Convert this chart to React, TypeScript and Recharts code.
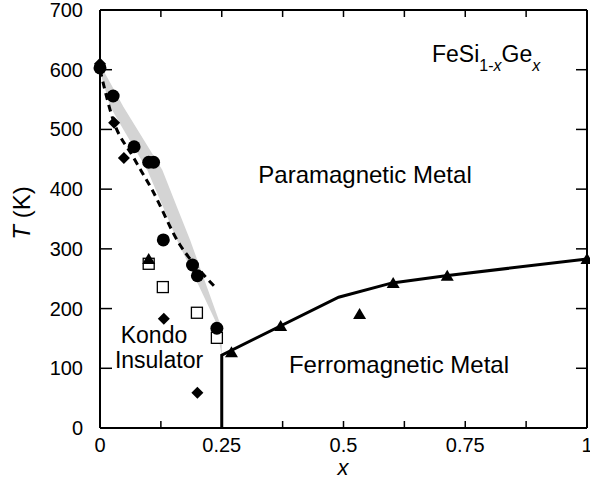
import React from 'react'
import {
    ComposedChart, XAxis, YAxis, Line, Area, Scatter,
} from 'recharts'

// Kondo-insulator crossover band (x, [lower T, upper T])
const bandX = [0, 0.021, 0.048, 0.097, 0.128, 0.158, 0.185, 0.236, 0.25]
const bandLow = [597, 538, 500, 432, 373, 315, 269, 181, 122]
const bandHigh = [609, 578, 538, 473, 432, 370, 315, 199, 167]

// dashed guide line
const dashX = [0, 0.027, 0.068, 0.107, 0.164, 0.19, 0.219, 0.24]
const dashT = [600, 516, 454, 399, 307, 278, 251, 233]

// ferromagnetic phase boundary
const ferroX = [0.25, 0.25, 0.49, 0.6, 0.71, 1]
const ferroT = [0, 122, 219, 243, 255, 283]

// markers
const circleX = [0, 0.027, 0.07, 0.1, 0.11, 0.13, 0.19, 0.2, 0.24]
const circleT = [603, 556, 471, 445, 445, 315, 273, 255, 167]
const diamondX = [0, 0.029, 0.049, 0.131, 0.2]
const diamondT = [610, 511, 452, 183, 59]
const squareX = [0.1, 0.129, 0.199, 0.24]
const squareT = [275, 236, 193, 151]
const triangleX = [0.1, 0.27, 0.371, 0.533, 0.602, 0.713, 1]
const triangleT = [283, 127, 171, 191, 243, 255, 283]

const xTicks = [0, 0.125, 0.25, 0.375, 0.5, 0.625, 0.75, 0.875, 1]
const xLabels = [0, 0.25, 0.5, 0.75, 1]
const yTicks = [0, 100, 200, 300, 400, 500, 600, 700]

const zip = (xs: number[], ts: number[]) => xs.map((x, i) => ({ x, T: ts[i] }))

const bandData = bandX.map((x, i) => ({ x, band: [bandLow[i], bandHigh[i]] }))
const dashData = zip(dashX, dashT)
const ferroData = zip(ferroX, ferroT)

const FONT = '"Liberation Sans", Arial, Helvetica, sans-serif'

const BottomTick = (props: any) => {
    const { x, y, payload } = props
    return (
        <g>
            <line x1={x} y1={y} x2={x} y2={y - 7} stroke="#000" strokeWidth={1.5} />
            {xLabels.includes(payload.value) && (
                <text x={x} y={y + 24} textAnchor="middle" fontSize={20} fill="#000" fontFamily={FONT}>
                    {String(payload.value)}
                </text>
            )}
        </g>
    )
}

const TopTick = (props: any) => {
    const { x, y } = props
    return <line x1={x} y1={y} x2={x} y2={y + 7} stroke="#000" strokeWidth={1.5} />
}

const LeftTick = (props: any) => {
    const { x, y, payload } = props
    return (
        <g>
            <line x1={x} y1={y} x2={x + 12} y2={y} stroke="#000" strokeWidth={1.5} />
            <text x={x - 17} y={y + 7} textAnchor="end" fontSize={20} fill="#000" fontFamily={FONT}>
                {String(payload.value)}
            </text>
        </g>
    )
}

const RightTick = (props: any) => {
    const { x, y } = props
    return <line x1={x} y1={y} x2={x - 11} y2={y} stroke="#000" strokeWidth={1.5} />
}

const Dot = (props: any) => <circle cx={props.cx} cy={props.cy} r={6.5} fill="#000" />
const Diamond = (props: any) => {
    const { cx, cy } = props
    return <polygon points={`${cx},${cy - 6} ${cx + 6},${cy} ${cx},${cy + 6} ${cx - 6},${cy}`} fill="#000" />
}
const Square = (props: any) => (
    <rect x={props.cx - 5.5} y={props.cy - 5.5} width={11} height={11} fill="#fff" stroke="#000" strokeWidth={1.3} />
)
const Triangle = (props: any) => {
    const { cx, cy } = props
    return <polygon points={`${cx},${cy - 6} ${cx + 6.5},${cy + 5} ${cx - 6.5},${cy + 5}`} fill="#000" />
}

export default function App() {
    return (
        <div style={{ position: 'absolute', left: 0, top: 0, fontFamily: FONT }}>
            <ComposedChart width={590} height={480} margin={{ top: 9, right: 2, bottom: 0, left: 0 }}>
                <XAxis
                    dataKey="x"
                    type="number"
                    domain={[0, 1]}
                    ticks={xTicks}
                    tick={<BottomTick />}
                    tickLine={false}
                    tickSize={0}
                    tickMargin={0}
                    interval={0}
                    axisLine={{ stroke: '#000', strokeWidth: 2 }}
                    height={52}
                />
                <XAxis
                    xAxisId="top"
                    dataKey="x"
                    orientation="top"
                    type="number"
                    domain={[0, 1]}
                    ticks={xTicks}
                    tick={<TopTick />}
                    tickLine={false}
                    tickSize={0}
                    tickMargin={0}
                    interval={0}
                    axisLine={{ stroke: '#000', strokeWidth: 2 }}
                    height={1}
                />
                <YAxis
                    type="number"
                    domain={[0, 700]}
                    ticks={yTicks}
                    tick={<LeftTick />}
                    tickLine={false}
                    tickSize={0}
                    tickMargin={0}
                    interval={0}
                    axisLine={{ stroke: '#000', strokeWidth: 2 }}
                    width={100}
                />
                <YAxis
                    yAxisId="right"
                    orientation="right"
                    type="number"
                    domain={[0, 700]}
                    ticks={yTicks}
                    tick={<RightTick />}
                    tickLine={false}
                    tickSize={0}
                    tickMargin={0}
                    interval={0}
                    axisLine={{ stroke: '#000', strokeWidth: 2 }}
                    width={1}
                />
                <Area
                    data={bandData}
                    dataKey="band"
                    type="linear"
                    stroke="none"
                    fill="#d4d4d4"
                    fillOpacity={1}
                    isAnimationActive={false}
                    activeDot={false}
                    dot={false}
                />
                <Line
                    data={dashData}
                    dataKey="T"
                    type="monotone"
                    stroke="#000"
                    strokeWidth={3}
                    strokeDasharray="7 5"
                    dot={false}
                    activeDot={false}
                    isAnimationActive={false}
                />
                <Line
                    data={ferroData}
                    dataKey="T"
                    xAxisId="top"
                    yAxisId="right"
                    type="linear"
                    stroke="#000"
                    strokeWidth={3}
                    dot={false}
                    activeDot={false}
                    isAnimationActive={false}
                />
                <Scatter data={zip(squareX, squareT)} dataKey="T" shape={<Square />} isAnimationActive={false} />
                <Scatter data={zip(triangleX, triangleT)} dataKey="T" shape={<Triangle />} isAnimationActive={false} />
                <Scatter data={zip(diamondX, diamondT)} dataKey="T" shape={<Diamond />} isAnimationActive={false} />
                <Scatter data={zip(circleX, circleT)} dataKey="T" shape={<Dot />} isAnimationActive={false} />

                <text x={365} y={183} textAnchor="middle" fontSize={24} fontFamily={FONT} fill="#000">Paramagnetic Metal</text>
                <text x={399} y={373} textAnchor="middle" fontSize={24} fontFamily={FONT} fill="#000">Ferromagnetic Metal</text>
                <text x={154} y={343} textAnchor="middle" fontSize={23} fontFamily={FONT} fill="#000">Kondo</text>
                <text x={159} y={368} textAnchor="middle" fontSize={23} fontFamily={FONT} fill="#000">Insulator</text>
                <text x={432} y={62} fontSize={23} fontFamily={FONT} fill="#000">
                    FeSi
                    <tspan dy={9} fontSize={16}>1-</tspan>
                    <tspan fontSize={16} fontStyle="italic">x</tspan>
                    <tspan dy={-9} fontSize={23}>Ge</tspan>
                    <tspan dy={9} fontSize={16} fontStyle="italic">x</tspan>
                </text>
                <text x={343} y={475} textAnchor="middle" fontSize={22} fontStyle="italic" fontFamily={FONT} fill="#000">x</text>
                <text
                    x={21}
                    y={213}
                    transform="rotate(-90, 21, 213)"
                    textAnchor="middle"
                    dominantBaseline="central"
                    fontSize={24}
                    fontFamily={FONT}
                    fill="#000"
                >
                    <tspan fontStyle="italic">T</tspan> (K)
                </text>
            </ComposedChart>
        </div>
    )
}
